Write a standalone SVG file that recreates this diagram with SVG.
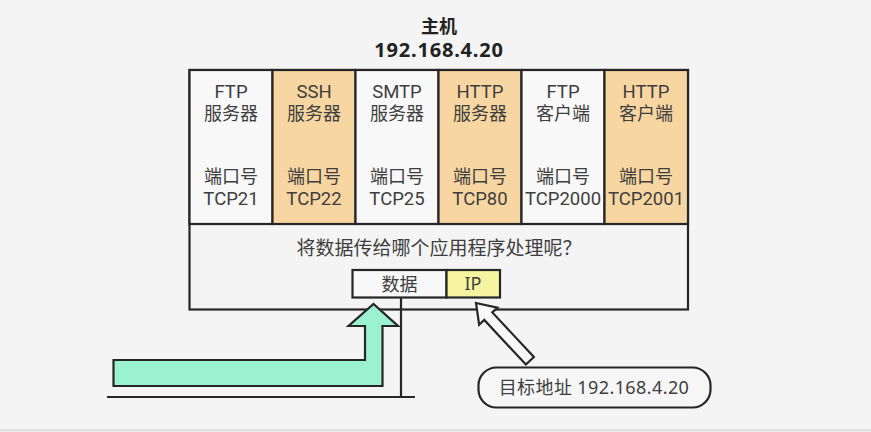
<svg xmlns="http://www.w3.org/2000/svg" width="871" height="432" viewBox="0 0 871 432">
<defs>
<style>
.bg{fill:#f4f4f4}
.box{stroke:#262626;stroke-width:2.2;}
.w{fill:#f8f8f8}
.o{fill:#f8d6a2}
.t{font-family:"Noto Sans","Noto Sans CJK SC",sans-serif;fill:#3e3e3e;text-anchor:middle}
.c{font-family:"Liberation Sans","Noto Sans CJK SC",sans-serif;font-size:18px;fill:#3e3e3e;text-anchor:middle}
.l{font-family:Roboto,"Noto Sans",sans-serif;font-size:18.5px;fill:#3e3e3e;text-anchor:middle}
.line{stroke:#262626;stroke-width:2.2;fill:none}
</style>
</defs>
<rect class="bg" x="0" y="0" width="871" height="432"/>
<rect x="0" y="430" width="871" height="2" fill="#ececec"/>
<line x1="0" y1="430" x2="871" y2="430" stroke="#d6d6d6" stroke-width="1"/>

<g id="title">
<text class="t" x="439" y="33" font-size="18" font-weight="bold" style="fill:#222">主机</text>
<text class="t" x="439" y="57" font-size="20" font-weight="bold" letter-spacing="0.8" style="fill:#222">192.168.4.20</text>
</g>

<g id="host">
<rect class="box" x="189.5" y="70" width="498.5" height="239.5" fill="#f4f4f4"/>
<text class="t" x="439" y="255" font-size="19">将数据传给哪个应用程序处理呢？</text>
</g>

<g id="ftp-server">
<rect class="box w" x="189.5" y="70" width="83" height="154"/>
<text class="l" x="231" y="98">FTP</text>
<text class="c" x="231" y="120">服务器</text>
<text class="c" x="231" y="183">端口号</text>
<text class="l" x="231" y="205">TCP21</text>
</g>
<g id="ssh-server">
<rect class="box o" x="272.5" y="70" width="83" height="154"/>
<text class="l" x="314" y="98">SSH</text>
<text class="c" x="314" y="120">服务器</text>
<text class="c" x="314" y="183">端口号</text>
<text class="l" x="314" y="205">TCP22</text>
</g>
<g id="smtp-server">
<rect class="box w" x="355.5" y="70" width="83" height="154"/>
<text class="l" x="397" y="98">SMTP</text>
<text class="c" x="397" y="120">服务器</text>
<text class="c" x="397" y="183">端口号</text>
<text class="l" x="397" y="205">TCP25</text>
</g>
<g id="http-server">
<rect class="box o" x="438.5" y="70" width="83" height="154"/>
<text class="l" x="480" y="98">HTTP</text>
<text class="c" x="480" y="120">服务器</text>
<text class="c" x="480" y="183">端口号</text>
<text class="l" x="480" y="205">TCP80</text>
</g>
<g id="ftp-client">
<rect class="box w" x="521.5" y="70" width="83" height="154"/>
<text class="l" x="563" y="98">FTP</text>
<text class="c" x="563" y="120">客户端</text>
<text class="c" x="563" y="183">端口号</text>
<text class="l" x="563" y="205">TCP2000</text>
</g>
<g id="http-client">
<rect class="box o" x="604.5" y="70" width="83.5" height="154"/>
<text class="l" x="646" y="98">HTTP</text>
<text class="c" x="646" y="120">客户端</text>
<text class="c" x="646" y="183">端口号</text>
<text class="l" x="646" y="205">TCP2001</text>
</g>

<g id="packet">
<rect class="box" x="352.5" y="270" width="94" height="27.5" fill="#f8f8f8"/>
<rect class="box" x="446.5" y="270" width="53.5" height="27.5" fill="#f6f4a0"/>
<text class="t" x="399.5" y="291" font-size="18">数据</text>
<text class="t" x="473" y="290" font-size="18">IP</text>
</g>

<g id="target-label">
<rect class="box" x="478.5" y="367.5" width="232" height="40" rx="18" fill="#f6f6f6"/>
<text class="t" x="594" y="394" font-size="18" letter-spacing="0.4">目标地址 192.168.4.20</text>
</g>

<g id="connectors">
<line class="line" x1="107" y1="397" x2="415" y2="397"/>
<line class="line" x1="401" y1="297" x2="401" y2="397"/>
<path d="M113.5,360 H365 V326 H348.5 L373.5,304 L398,326 H382.5 V386 H113.5 Z" fill="#9af2d3" stroke="#262626" stroke-width="2.2" stroke-linejoin="miter"/>
<path d="M0,0 L12.5,18 H5.5 V79 H-5.5 V18 H-12.5 Z" transform="translate(476,303) rotate(-43)" fill="#f8f8f8" stroke="#262626" stroke-width="2.2"/>
</g>
</svg>
